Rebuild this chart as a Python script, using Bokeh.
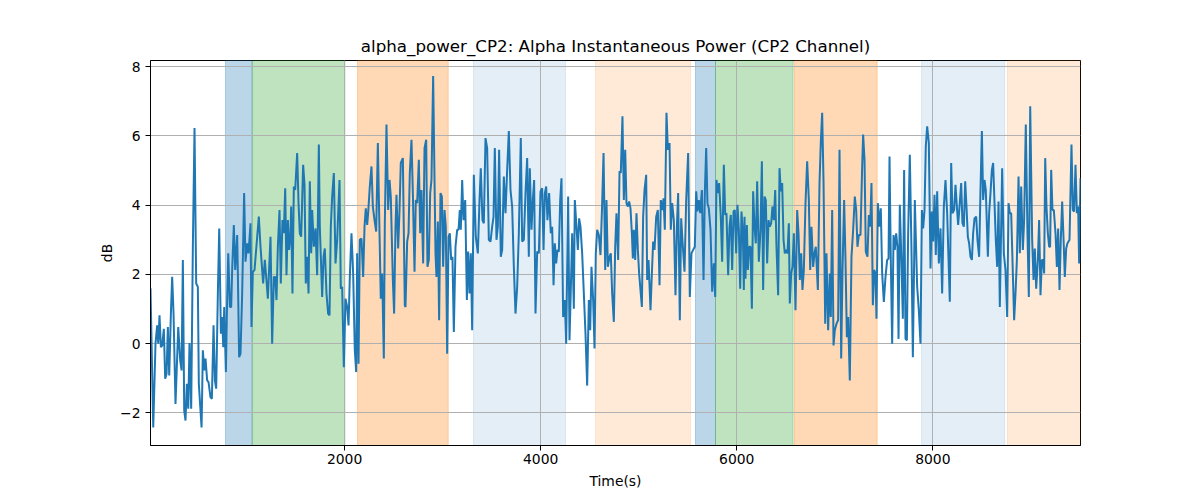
from bokeh.plotting import figure
from bokeh.models import BoxAnnotation, FixedTicker, Range1d
from bokeh.embed import file_html
from bokeh.resources import INLINE

title_text = "alpha_power_CP2: Alpha Instantaneous Power (CP2 Channel)"
x_label = "Time(s)"
y_label = "dB"

x_ticks = [2000, 4000, 6000, 8000]
y_ticks = [-2, 0, 2, 4, 6, 8]
y_tick_labels = ["\u22122", "0", "2", "4", "6", "8"]

# time (s)
t = [20, 48, 71, 88, 99, 112, 126, 140, 156, 170, 184, 197, 211, 228, 241, 255, 275, 303, 323, 337,
     350, 364, 377, 391, 405, 418, 435, 452, 469, 486, 503, 513, 541, 554, 568, 581, 598, 612, 632, 646,
     663, 677, 690, 707, 721, 738, 751, 762, 772, 789, 799, 813, 830, 843, 853, 870, 884,
     904, 911, 924, 938, 955, 975, 989, 1006, 1020, 1040, 1050, 1064, 1081, 1125, 1142, 1169, 1186, 1200, 1217, 1244,
     1261, 1278, 1292, 1305, 1319, 1336, 1349, 1366, 1380, 1394, 1407, 1421, 1434, 1448, 1455, 1468, 1482, 1496, 1516, 1530,
     1543, 1557, 1577, 1591, 1604, 1618, 1632, 1645, 1659, 1669, 1686, 1703, 1720, 1737, 1747,
     1771, 1785, 1798, 1815, 1832, 1846, 1859, 1873, 1890, 1907, 1924, 1948, 1961, 1975, 1992, 2009, 2026, 2040, 2053, 2070,
     2087, 2104, 2118, 2128, 2142, 2155, 2172, 2189, 2203, 2216, 2230, 2240, 2257, 2274, 2288, 2305, 2322, 2339, 2356, 2369,
     2383, 2400, 2410, 2427, 2444, 2458, 2471, 2492, 2505, 2519, 2529, 2546, 2560, 2573, 2594, 2614,
     2621, 2638, 2652, 2665, 2682, 2696, 2713, 2726, 2740, 2757, 2771, 2784, 2801, 2815, 2832, 2845, 2859, 2873, 2886, 2903,
     2917, 2927, 2937, 2951, 2964, 2978, 2992, 3005, 3019, 3032, 3046, 3060, 3073, 3087, 3100, 3114, 3131, 3148, 3162, 3175,
     3185, 3199, 3213, 3230, 3247, 3260, 3274, 3287, 3301, 3318, 3338, 3359, 3376, 3389, 3406, 3420, 3437, 3454, 3471, 3488,
     3505, 3519, 3532, 3549, 3563, 3576, 3593, 3607, 3624, 3641, 3658, 3675, 3692, 3709, 3726, 3743, 3760, 3777, 3797, 3811,
     3828, 3845, 3862, 3879, 3889, 3906, 3920, 3933, 3947, 3964, 3981, 3998, 4015, 4029, 4042, 4056, 4069, 4086, 4103, 4117,
     4131, 4144, 4158, 4171, 4185, 4199, 4212, 4229, 4246, 4260, 4280, 4294, 4307, 4321, 4338, 4348,
     4365, 4379, 4392, 4406, 4423, 4440, 4457, 4474, 4491, 4505, 4518, 4535, 4549, 4562, 4576, 4593, 4610, 4627, 4641, 4658,
     4671, 4685, 4702, 4715, 4729, 4746, 4760, 4773, 4790, 4804, 4817, 4834, 4848, 4862, 4875, 4889, 4902, 4916, 4930, 4940,
     4950, 4964, 4977, 4991, 5004, 5018, 5032, 5045, 5059, 5076, 5086, 5100, 5120, 5134, 5147, 5161, 5178, 5195, 5212,
     5225, 5239, 5253, 5266, 5283, 5297, 5314, 5327, 5341, 5358, 5375, 5389, 5402, 5419, 5433, 5450, 5467, 5484, 5504, 5521,
     5538, 5555, 5572, 5586, 5599, 5613, 5627, 5644, 5661, 5674, 5688, 5701, 5715, 5732, 5749, 5766, 5780, 5793, 5807, 5820,
     5837, 5851, 5868, 5882, 5895, 5912, 5926, 5939, 5953, 5967, 5980, 5994, 6007, 6021, 6035, 6048, 6062, 6072,
     6079, 6089, 6103, 6113, 6126, 6140, 6154, 6167, 6181, 6194, 6208, 6225, 6242, 6256, 6269, 6283, 6296, 6310, 6324, 6337,
     6351, 6364, 6378, 6392, 6405, 6422, 6436, 6449, 6463, 6477, 6490, 6504, 6517, 6531, 6541, 6555, 6568, 6582, 6599, 6616,
     6630, 6643, 6657, 6670, 6684, 6701, 6718, 6735, 6749, 6762, 6779, 6793, 6806, 6827, 6844, 6857, 6871, 6885, 6902, 6915,
     6932, 6949,
     6959, 6973, 6987, 7000, 7017, 7034, 7048, 7065, 7078, 7095, 7109, 7123, 7136, 7153, 7170, 7187, 7204, 7218, 7231, 7245,
     7262, 7279, 7289, 7303, 7316, 7333, 7347, 7361, 7374, 7388, 7401, 7415, 7425, 7439, 7456, 7469, 7483, 7500, 7517, 7534,
     7548, 7558, 7571, 7585, 7599, 7612, 7626, 7639, 7650, 7663, 7680, 7694, 7707, 7721, 7735, 7748, 7765, 7782, 7796, 7809,
     7816,
     7840, 7857, 7874, 7888, 7901, 7915, 7928, 7942, 7959, 7976, 7990, 8003, 8017, 8030, 8044, 8061, 8078, 8095, 8112, 8129,
     8146, 8160, 8173, 8187, 8200, 8217, 8231, 8245, 8258, 8272, 8289, 8302, 8316, 8330, 8343, 8357, 8370, 8384, 8398, 8411,
     8425, 8442, 8455, 8472, 8486, 8500, 8513, 8527, 8540, 8561, 8574, 8588, 8602, 8615, 8629, 8642, 8656, 8670, 8683,
     8707, 8724, 8741, 8758, 8772, 8785, 8799, 8816, 8829, 8843, 8857, 8874, 8887, 8901, 8918, 8931, 8948, 8965, 8979,
     8993, 9013, 9027, 9040, 9054, 9071, 9084, 9098, 9112, 9125, 9135, 9146, 9159, 9173, 9186, 9196, 9207, 9220, 9234, 9251,
     9265, 9278, 9292, 9305, 9319, 9333, 9346, 9360, 9373, 9394, 9414, 9428, 9441, 9455, 9469, 9482, 9492, 9506]

# alpha power (dB)
v = [1.6, -2.42, 0, 0.53, 0, 0.82, -0.1, -0.05, 0.43, -1.01, -0.87, 0.48, -0.92, 0.87, 1.93, 0.87, -1.74, 0.48, -0.48, -0.77,
     2.42, -1.93, -2.22, -1.16, -1.88, 0.02, -1.88, 2.8, 6.23, 1.74, 1.64, -1.16, -2.42, -0.19, -0.77, -0.43, -1.06, -1.11, -1.55, -1.59,
     0.53, -1.06, -1.3, 1.45, 3.33, 0.29, 0.77, -0.1, 1.06, -0.82, 0.87, 2.61, 1.06, 1.06, 2.13, 3.43, 2.13,
     3.14, 2.03, -0.39, -0.29, 1.45, 4.35, 2.37, 2.9, 2.61, 3.48, 0.48, 2.08, 2.13, 3.67, 2.8, 1.74, 2.42, 1.93, 1.3, 3.09,
     0, 1.93, 1.93, 1.26, 2.8, 3.86, 1.74, 3.57, 3.19, 4.49, 1.98, 3.57, 2.71, 3.19, 3.96, 1.45, 4.54, 4.44, 5.51, 4.06,
     3.19, 3.09, 5.17, 4.59, 1.74, 2.51, 1.45, 4.69, 2.61, 3.86, 2.8, 3.33, 1.98, 5.75, 3.38,
     1.35, 2.51, 2.75, 1.45, 0.87, 0.82, 3.38, 4.25, 4.93, 2.32, 3.0, 4.73, 1.59, 1.64, -0.68, 1.3, 1.06, 0.53, 1.93, 3.19,
     2.03, -0.19, -0.82, 2.61, -0.58, 3.0, 3.04, 1.93, 3.38, 3.91, 3.43, 3.77, 4.54, 5.12, 3.96, 3.57, 3.24, 5.8, 3.19, 1.3,
     2.03, -0.43, 3.48, 6.33, 3.86, 4.73, 4.25, 1.84, 0.87, 3.38, 4.3, 2.75, 3.86, 5.22, 5.36, 1.11,
     1.06, 2.95, 3.19, 4.93, 5.89, 4.35, 2.08, 4.15, 4.06, 5.31, 3.19, 4.44, 2.32, 5.65, 5.89, 2.22, 2.42, 4.35, 4.73, 7.73,
     4.73, 2.61, 1.93, 3.53, 0.68, 4.35, 4.25, 2.22, 3.86, 3.38, -0.29, 3.09, 3.19, 2.42, 2.51, 0.34, 2.8, 3.29, 3.29, 3.86,
     3.29, 4.73, 3.57, 4.15, 1.26, 2.66, 1.45, 2.61, 0.39, 4.88, 3.09, 2.61, 4.15, 5.07, 3.57, 3.48, 5.94, 5.65, 3.0, 2.95,
     3.38, 3.67, 5.65, 3.0, 3.38, 5.6, 2.51, 2.71, 4.83, 3.77, 5.02, 6.14, 4.44, 3.96, 2.22, 0.87, 1.64, 3.19, 5.94, 2.95,
     3.0, 4.35, 5.36, 2.51, 5.07, 3.29, 4.15, 4.73, 0.87, 2.66, 2.61, 4.4, 4.49, 2.71, 4.35, 4.54, 3.57, 4.35, 3.19, 3.38,
     1.69, 2.9, 2.32, 2.71, 2.66, 4.15, 4.78, 0.77, 1.26, 0, 4.25, 0.1, 1.55, 3.19, 1.01, 4.15,
     3.38, 2.71, 3.62, 3.38, 2.61, 1.45, 0.29, -1.21, 1.26, 0.39, 2.22, 1.26, -0.14, 2.61, 3.29, 3.14, 2.56, 4.06, 5.51, 2.13,
     4.15, 2.22, 2.51, 2.61, 1.45, 0.63, 2.8, 3.77, 2.42, 4.98, 4.93, 6.57, 4.15, 5.6, 4.06, 3.96, 4.11, 3.91, 3.19, 2.46,
     3.29, 2.42, 3.77, 2.71, 2.03, 1.55, 1.06, 3.67, 4.44, 4.88, 1.84, 2.42, 0.97, 2.03, 2.95, 2.71, 3.67, 3.86, 1.69,
     4.15, 3.86, 4.2, 3.29, 6.67, 5.6, 5.8, 3.29, 4.06, 3.57, 1.4, 3.38, 4.35, 0.68, 3.62, 2.8, 2.08, 4.15, 5.51, 1.35,
     2.61, 2.71, 2.8, 4.4, 3.82, 4.15, 3.77, 4.44, 1.84, 4.35, 5.65, 4.06, 3.91, 3.29, 1.5, 2.32, 1.35, 4.73, 4.35, 4.64,
     3.67, 2.37, 5.17, 3.72, 3.77, 1.98, 3.38, 3.72, 2.13, 3.82, 3.86, 2.61, 4.01, 3.29, 1.59, 3.82, 3.19, 1.55,
     3.67, 1.88, 3.43, 2.13, 2.8, 2.8, 1.01, 4.4, 3.38, 2.9, 4.69, 2.37, 3.29, 5.27, 1.55, 4.25, 4.15, 2.32, 3.57, 3.38,
     3.48, 3.96, 3.57, 4.44, 2.8, 1.4, 5.07, 4.4, 4.64, 3.0, 2.61, 2.71, 2.61, 3.48, 1.16, 2.03, 2.22, 3.19, 0.97, 3.86,
     3.19, 1.84, 2.61, 1.55, 2.13, 4.06, 5.27, 4.15, 2.13, 3.38, 2.22, 2.61, 2.8, 1.55, 4.64, 5.8, 6.67, 4.64, 0.58, 2.61,
     0.39, 2.03,
     0.77, 3.86, -0.05, 0.39, 0.58, 0.68, 5.6, -0.43, 2.03, 4.15, 2.42, 0.19, 0.77, -1.06, 2.51, 3.29, 4.25, 3.86, 2.8, 3.14,
     3.14, 5.12, 6.04, 5.31, 2.66, 2.51, 3.72, 3.38, 4.64, 1.11, 2.13, 2.03, 0.72, 4.06, 3.38, 3.91, 2.03, 1.21, 1.93, 2.42,
     2.46, 5.41, 2.42, 0, 3.14, 2.71, 3.19, 2.8, 0.14, 4.01, 2.32, 0.72, 5.02, 0.14, 0.1, 3.19, 5.46, 2.71, -0.39, 2.32,
     4.15,
     1.64, 0.97, 0, 3.86, 3.33, 3.86, 5.7, 6.28, 5.8, 2.17, 3.82, 2.95, 4.3, 2.56, 4.4, 2.32, 3.33, 1.45, 3.96, 4.73,
     3.77, 2.42, 1.21, 5.22, 3.77, 3.86, 4.59, 3.96, 3.43, 3.96, 4.64, 3.48, 3.38, 4.69, 3.96, 3.09, 2.9, 2.51, 2.42, 3.19,
     3.62, 3.67, 3.0, 2.51, 4.44, 6.14, 4.15, 4.73, 4.44, 2.51, 3.77, 4.35, 5.02, 5.22, 4.06, 3.0, 2.22, 4.11, 1.06,
     5.07, 2.61, 2.13, 0.77, 4.06, 3.77, 3.77, 2.03, 0.68, 1.45, 2.42, 4.83, 2.61, 4.54, 2.71, 3.57, 6.33, 3.19, 1.35,
     6.86, 3.0, 1.84, 2.75, 1.59, 2.42, 3.57, 1.4, 2.42, 2.42, 2.03, 5.36, 3.96, 3.19, 2.8, 2.8, 5.02, 3.86, 3.86, 3.19,
     2.22, 3.33, 1.55, 3.0, 4.11, 3.04, 1.93, 2.75, 2.9, 3.0, 5.75, 3.86, 3.82, 5.17, 3.77, 3.96, 2.32, 4.78]

# shaded intervals (start, end, base colour, alpha)
span_start = [785, 1057, 2132, 3315, 4559, 5579, 5783, 6589, 7885, 8761]
span_end = [1057, 2003, 3057, 4253, 5528, 5783, 6575, 7432, 8734, 9530]
span_color = ["#1f77b4", "#2ca02c", "#ff7f0e", "#1f77b4", "#ff7f0e",
              "#1f77b4", "#2ca02c", "#ff7f0e", "#1f77b4", "#ff7f0e"]
span_alpha = [0.3, 0.3, 0.3, 0.12, 0.16, 0.3, 0.3, 0.3, 0.12, 0.16]

FONT = "DejaVu Sans"

p = figure(width=1184, height=492, output_backend="svg", toolbar_location=None,
           x_range=Range1d(20, 9506), y_range=Range1d(-2.94, 8.18),
           min_border_left=150, min_border_right=104, min_border_top=60, min_border_bottom=47,
           title=title_text)

for s, e, c, a in zip(span_start, span_end, span_color, span_alpha):
    p.add_layout(BoxAnnotation(left=s, right=e, fill_color=c, fill_alpha=a,
                               line_color=c, line_alpha=a, line_width=1, level="image"))

p.line(t, v, line_color="#1f77b4", line_width=2)

p.title.text_font = FONT
p.title.text_font_size = "16.7px"
p.title.text_font_style = "normal"
p.title.text_color = "black"
p.title.align = "center"

p.xaxis.ticker = FixedTicker(ticks=x_ticks)
p.yaxis.ticker = FixedTicker(ticks=y_ticks)
p.yaxis.major_label_overrides = {tk: lb for tk, lb in zip(y_ticks, y_tick_labels)}
p.xaxis.axis_label = x_label
p.yaxis.axis_label = y_label

for ax in (p.xaxis, p.yaxis):
    ax.axis_label_text_font = FONT
    ax.axis_label_text_font_size = "13.9px"
    ax.axis_label_text_font_style = "normal"
    ax.axis_label_text_color = "black"
    ax.major_label_text_font = FONT
    ax.major_label_text_font_size = "13.9px"
    ax.major_label_text_color = "black"
    ax.axis_line_color = "black"
    ax.major_tick_line_color = "black"
    ax.major_tick_out = 5
    ax.major_tick_in = 0
    ax.minor_tick_line_color = None

p.xaxis.major_label_standoff = 3
p.xaxis.axis_label_standoff = 6
p.yaxis.major_label_standoff = 5
p.yaxis.axis_label_standoff = 2

p.xgrid.grid_line_color = "#b0b0b0"
p.ygrid.grid_line_color = "#b0b0b0"
p.xgrid.grid_line_width = 1
p.ygrid.grid_line_width = 1

p.outline_line_color = "black"
p.outline_line_width = 1
p.outline_line_alpha = 1
p.background_fill_color = "white"
p.border_fill_color = "white"

open("out.html", "w").write(file_html(p, INLINE))
